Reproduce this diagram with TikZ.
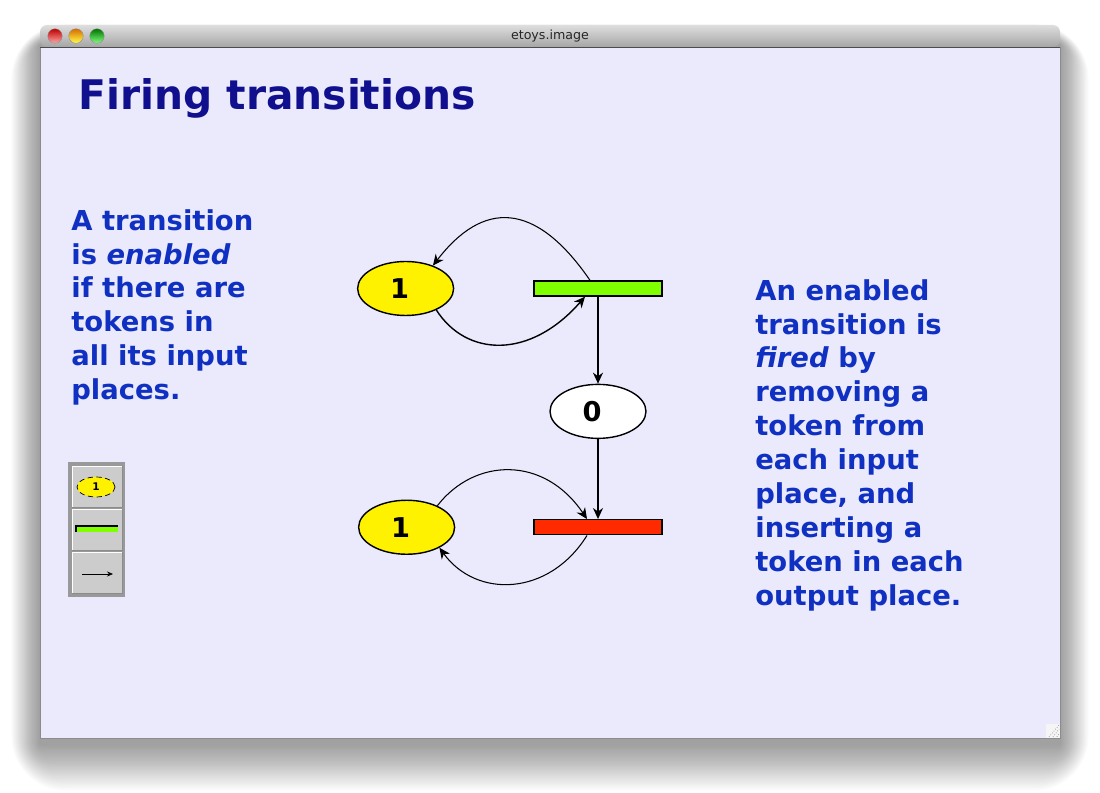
\documentclass[tikz,border=0pt]{standalone}
\usepackage{fontspec}
\setmainfont{DejaVu Sans}
\usetikzlibrary{shapes.geometric, arrows.meta, positioning}
\definecolor{pane}{HTML}{EAEAFC}
\definecolor{navy}{HTML}{10108F}
\definecolor{ink}{HTML}{1030C2}
\definecolor{lime}{HTML}{7FFF00}
\definecolor{scarlet}{HTML}{FF2A00}
\definecolor{chrome}{HTML}{CCCCCC}
\newcommand{\marking}[1]{#1\kern0.24cm}

\begin{document}
\begin{tikzpicture}[
    x=0.02cm, y=-0.02cm,
    node distance=1.58cm,
    place/.style={ellipse, draw=black, thick, minimum width=1.92cm, minimum height=1.08cm, inner sep=0pt, font=\fontsize{15.5}{18}\selectfont\bfseries},
    trans/.style={rectangle, draw=black, thick, minimum width=2.56cm, minimum height=0.3cm, inner sep=0pt},
    arc/.style={-{Stealth[length=2.2mm, width=2mm, inset=0.7mm]}, semithick},
    blurb/.style={align=left, anchor=north west, inner sep=0pt, text=ink, font=\fontsize{15.6}{19.3}\selectfont\bfseries},
    light/.style={circle, minimum size=0.29cm, inner sep=0pt, draw=black!45, very thin},
  ]
  \useasboundingbox (0,0) rectangle (1100,793);
  \fill[white] (0,0) rectangle (1100,793);
  \foreach \s in {1,...,26}
    \fill[black, opacity=0.016, rounded corners=1.2*\s pt] (40-1.1*\s,45-0.8*\s) rectangle (1060+1.1*\s,744+1.8*\s);

  \fill[pane] (40,47) rectangle (1060,738);
  \draw[black!45] (40,47) rectangle (1060,738);
  \shade[top color=black!13, bottom color=black!35, rounded corners=4pt] (40,47) -- (40,25) -- (1060,25) -- (1060,47) -- cycle;
  \draw[black!70] (40,47) -- (1060,47);
  \node[light, top color=red!75!black, bottom color=red!35!white] (close) at (55,36) {};
  \node[light, top color=orange!85!black, bottom color=yellow!70!white] (shrink) at (76,36) {};
  \node[light, top color=green!45!black, bottom color=green!50!white] (grow) at (97,36) {};
  \node[font=\fontsize{7.2}{8}\selectfont, text=black!85] (wintitle) at (550,36) {etoys.image};
  \fill[white!96!black] (1046,724) rectangle (1060,738);
  \foreach \d in {3,7,11}
    \draw[black!45, densely dotted] (1060-\d,737) -- (1059,736-\d);

  \node[anchor=base west, inner sep=0pt, text=navy, font=\fontsize{23.2}{28}\selectfont\bfseries] (title) at (78,110) {Firing transitions};

  \node[blurb] (enabled) at (71,209) {A transition\\is \textit{enabled}\\if there are\\tokens in\\all its input\\places.};
  \node[blurb] (fired) at (755,279) {An enabled\\transition is\\\textit{fired} by\\removing a\\token from\\each input\\place, and\\inserting a\\token in each\\output place.};

  \node[trans, fill=lime] (t1) at (598,288.5) {};
  \node[place, fill=yellow, left=of t1] (p1) {\marking{1}};
  \node[place, fill=white, below=1.74cm of t1] (p0) {\marking{0}};
  \node[trans, fill=scarlet, below=1.6cm of p0] (t2) {};
  \node[place, fill=yellow, left=1.56cm of t2] (p2) {\marking{1}};

  \draw[arc] ([xshift=-0.16cm]t1.north) .. controls +(-55,-80) and +(50,-65) .. (p1.40);
  \draw[arc, thick] (p1.-35) .. controls +(30,47) and +(-55,63) .. ([xshift=-0.26cm]t1.south);
  \draw[arc, thick] (t1) -- (p0);
  \draw[arc, thick] (p0) -- (t2);
  \draw[arc] (p2.35) .. controls +(37,-48) and +(-43,-64) .. ([xshift=-0.22cm]t2.north);
  \draw[arc] ([xshift=-0.22cm]t2.south) .. controls +(-38,61) and +(37,51) .. (p2.-32);

  \fill[black!40] (68,462) rectangle (125,597);
  \foreach \top in {466,509,552} {
    \fill[chrome] (72,\top) rectangle (122,\top+41);
    \draw[white] (72,\top+41) -- (72,\top) -- (122,\top);
    \draw[black!45] (122,\top) -- (122,\top+41) -- (72,\top+41);
  }
  \node[ellipse, draw=black, densely dashed, fill=yellow, minimum width=0.76cm, minimum height=0.4cm, inner sep=0pt, font=\fontsize{6}{7}\selectfont\bfseries] (newplace) at (96,487) {1};
  \fill[lime] (76,526) rectangle (118,532);
  \draw[semithick] (76,532) -- (76,526) -- (118,526);
  \draw[-{Stealth[length=1.2mm, width=1mm]}] (82,574) -- (113,574);
\end{tikzpicture}
\end{document}
